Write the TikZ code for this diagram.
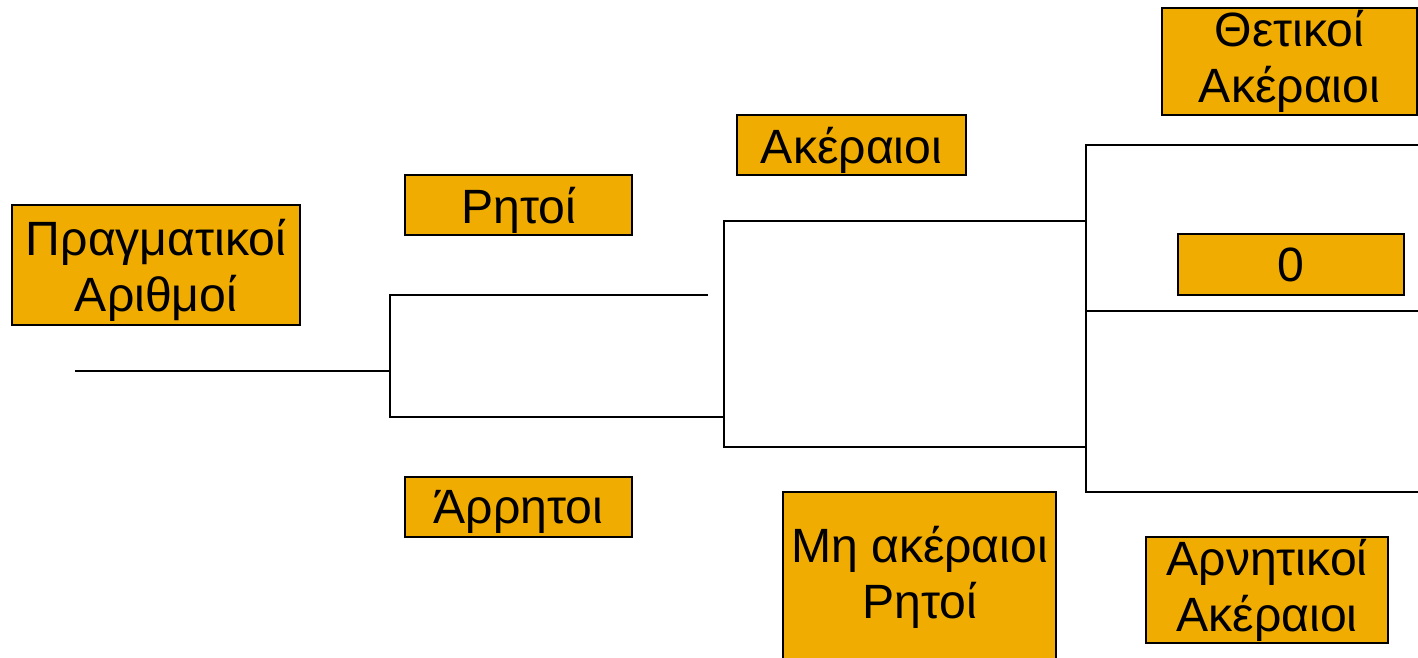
\documentclass[tikz,border=0pt]{standalone}
\usepackage{fontspec}
\setmainfont{Liberation Sans}
\usepackage{tikz}
\definecolor{boxorange}{RGB}{240,172,0}
\tikzset{
    box/.style 2 args={draw, fill=boxorange, line width=1.1pt, inner sep=0pt,
        minimum width=#1*0.02cm, minimum height=#2*0.02cm, align=center,
        font=\fontsize{27.4}{32}\selectfont},
    bar/.style={line width=1.1pt}
}
\begin{document}
\begin{tikzpicture}[x=0.02cm,y=-0.02cm]
        \useasboundingbox (0,0) rectangle (1418,657);
        \pgfmathsetmacro\xa{390}
        \pgfmathsetmacro\xb{724}
        \pgfmathsetmacro\xc{1086}
        \pgfmathsetmacro\xe{1420}
        \coordinate (R0) at (75,371);
        \coordinate (R) at (\xa,371);
        \coordinate (Rt) at (\xa,295);
        \coordinate (Rb) at (\xa,417);
        \coordinate (Rte) at (708,295);
        \coordinate (Q) at (\xb,417);
        \coordinate (Qt) at (\xb,221);
        \coordinate (Qb) at (\xb,447);
        \coordinate (Zt) at (\xc,221);
        \coordinate (Zb) at (\xc,447);
        \coordinate (Z1) at (\xc,145);
        \coordinate (Z2) at (\xc,311);
        \coordinate (Z3) at (\xc,492);
        \coordinate (E1) at (\xe,145);
        \coordinate (E2) at (\xe,311);
        \coordinate (E3) at (\xe,492);
        \node[box={288}{120}, text depth=0pt] (real) at (156,265) {Πραγματικοί\\Αριθμοί};
        \node[box={227}{60}, text depth=0pt] (rat) at (518.5,205) {Ρητοί};
        \node[box={227}{60}, text depth=0pt] (irr) at (518.5,507) {Άρρητοι};
        \node[box={229}{60}, text depth=0pt] (int) at (851.5,145) {Ακέραιοι};
        \node[box={273}{170}] (nonint) at (919.5,577) {Μη ακέραιοι\\Ρητοί};
        \node[box={255}{107}] (pos) at (1289.5,61.5) {Θετικοί\\Ακέραιοι};
        \node[box={226}{61}] (zero) at (1291,264.5) {0};
        \node[box={242}{106}] (neg) at (1267,590) {Αρνητικοί\\Ακέραιοι};
        \draw[bar] (R0) -- (R);
        \draw[bar] (Rte) -- (Rt) -- (Rb) -- (Q);
        \draw[bar] (Zt) -- (Qt) -- (Qb) -- (Zb);
        \draw[bar] (E1) -- (Z1) -- (Z3) -- (E3);
        \draw[bar] (Z2) -- (E2);
\end{tikzpicture}
\end{document}
